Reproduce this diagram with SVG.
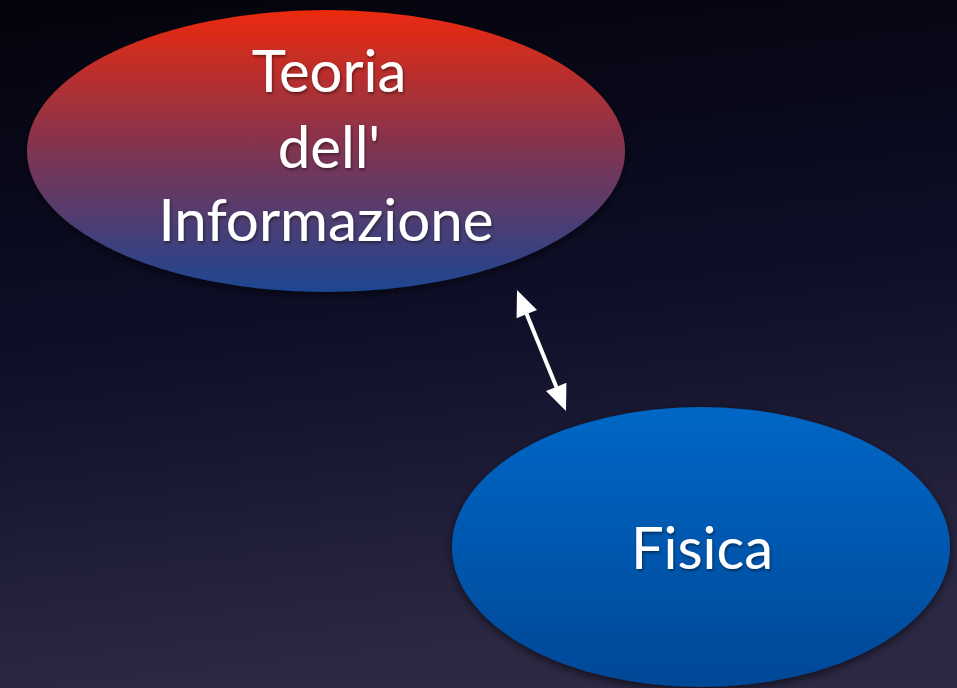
<svg xmlns="http://www.w3.org/2000/svg" width="957" height="688" viewBox="0 0 957 688">
<defs>
<linearGradient id="bg" x1="0" y1="0" x2="0.15" y2="1">
<stop offset="0" stop-color="#03030c"/>
<stop offset="0.5" stop-color="#0e0e28"/>
<stop offset="1" stop-color="#2b2843"/>
</linearGradient>
<linearGradient id="g1" x1="0" y1="0" x2="0" y2="1">
<stop offset="0" stop-color="#ec2a0e"/>
<stop offset="0.5" stop-color="#7f3452"/>
<stop offset="1" stop-color="#1d4692"/>
</linearGradient>
<linearGradient id="g2" x1="0" y1="0" x2="0" y2="1">
<stop offset="0" stop-color="#0067c6"/>
<stop offset="1" stop-color="#054897"/>
</linearGradient>
<filter id="sh" x="-20%" y="-20%" width="140%" height="140%">
<feDropShadow dx="0" dy="3" stdDeviation="4" flood-color="#000" flood-opacity="0.6"/>
</filter>
<filter id="tsh" x="-10%" y="-10%" width="120%" height="130%">
<feDropShadow dx="1" dy="2" stdDeviation="1.5" flood-color="#000" flood-opacity="0.45"/>
</filter>
<style>
.lbl{font-family:"Lato","Open Sans","Liberation Sans",sans-serif;fill:#fff;text-anchor:middle;filter:url(#tsh)}
.head{fill:#fff}
</style>
</defs>
<rect width="957" height="688" fill="url(#bg)"/>
<g id="connectors">
<line x1="525" y1="310" x2="558" y2="391" stroke="#fff" stroke-width="4"/>
<polygon class="head" points="517,290 537,310 526.8,314.1 516.6,318.2"/>
<polygon class="head" points="566,411 546,391 556.2,386.9 566.4,382.8"/>
</g>
<g id="teoria">
<ellipse cx="326" cy="151" rx="299" ry="141" fill="url(#g1)" filter="url(#sh)"/>
<text class="lbl" font-size="58" x="329" y="92">Teoria</text>
<text class="lbl" font-size="58" x="329" y="168">dell'</text>
<text class="lbl" font-size="58" x="326" y="241" textLength="335" lengthAdjust="spacingAndGlyphs">Informazione</text>
</g>
<g id="fisica">
<ellipse cx="701" cy="547" rx="249" ry="140" fill="url(#g2)" filter="url(#sh)"/>
<text class="lbl" font-size="58" x="702" y="569">Fisica</text>
</g>
</svg>
